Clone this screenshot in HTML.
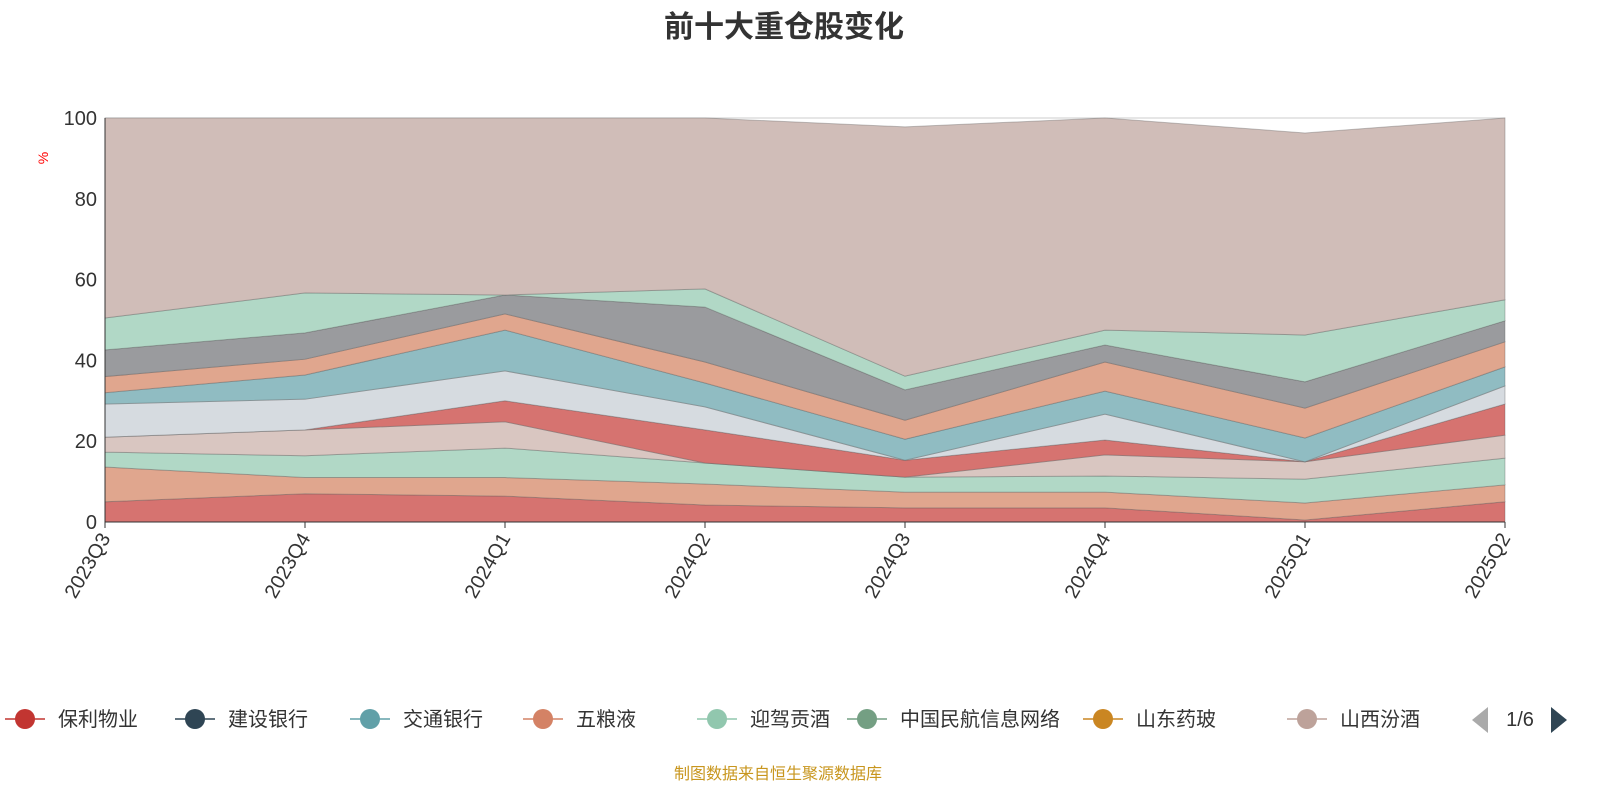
<!DOCTYPE html>
<html><head><meta charset="utf-8"><style>
body{margin:0;background:#fff;font-family:"Liberation Sans","Noto Sans CJK SC",sans-serif}
svg text{font-family:"Liberation Sans","Noto Sans CJK SC",sans-serif}
</style></head><body>
<svg id="c" width="1600" height="800"></svg>
<script>
const categories=["2023Q3","2023Q4","2024Q1","2024Q2","2024Q3","2024Q4","2025Q1","2025Q2"];
const yTicks=[0,20,40,60,80,100];
const s1=[5,7,6.4,4.2,3.5,3.5,0.5,5];
const s2=[8.6,4,4.6,5.2,3.9,3.9,4.2,4.2];
const s3=[3.7,5.4,7.3,5.2,3.7,4,5.9,6.6];
const s4=[3.7,6.4,6.5,0,0,5.2,4.3,5.7];
const s5=[0,0,5.2,8.2,4.2,3.7,0,7.7];
const s6=[8.2,7.6,7.4,5.7,0,6.4,0,4.5];
const s7=[2.8,6,10.1,5.9,5.2,5.7,5.9,4.7];
const s8=[4,3.9,4,5.2,4.7,7.2,7.4,6.2];
const s9=[6.6,6.5,4.7,13.6,7.5,4.2,6.5,5.2];
const s10=[7.9,9.9,0,4.5,3.4,3.7,11.6,5.2];
const s11=[49.5,43.3,43.8,42.3,61.7,52.5,50,45];
const series=[s1,s2,s3,s4,s5,s6,s7,s8,s9,s10,s11];
const colors=["#d67370","#e0a68e","#b1d8c6","#d9c6c1","#d67370","#d6dbe0","#90bcc2","#e0a68e","#9a9b9e","#b1d8c6","#d0bdb8"];
const legendNames=["保利物业","建设银行","交通银行","五粮液","迎驾贡酒","中国民航信息网络","山东药玻","山西汾酒"];
const legendColors=["#c23531","#2f4554","#61a0a8","#d48265","#91c7ae","#749f83","#ca8622","#bda29a"];
const legendX=[5,175,350,523,697,847,1083,1287];

const NS="http://www.w3.org/2000/svg",svg=document.getElementById('c');
const X0=105,X1=1505,Y0=522,Y1=118;
const xs=i=>X0+i*(X1-X0)/(categories.length-1);
const ys=v=>Y0-(v/100)*(Y0-Y1);
function mk(t,a,p){const e=document.createElementNS(NS,t);for(const k in a)e.setAttribute(k,a[k]);(p||svg).appendChild(e);return e;}

let t=mk('text',{x:784,y:37,'text-anchor':'middle','font-size':30,'font-weight':'bold',fill:'#333'});t.textContent='前十大重仓股变化';


yTicks.forEach(v=>{
 let l=mk('line',{x1:X0,x2:X1,y1:ys(v),y2:ys(v),stroke:'#ccc'});
 
 let tx=mk('text',{x:X0-8,y:ys(v)+7,'text-anchor':'end','font-size':20,fill:'#333'});tx.textContent=v;
 
});
t=mk('text',{x:48,y:158,'font-size':14,fill:'red',transform:'rotate(-90 48 158)','text-anchor':'middle'});t.textContent='%';


let base=categories.map(()=>0);
series.forEach((s,k)=>{
 const top=base.map((b,i)=>b+s[i]);
 let d='M'+top.map((v,i)=>xs(i)+','+ys(v)).join(' L');
 for(let i=categories.length-1;i>=0;i--)d+=' L'+xs(i)+','+ys(base[i]);
 let p=mk('path',{d:d+'Z',fill:colors[k],stroke:'rgba(90,90,90,0.35)','stroke-width':1});
 
 base=top;
});

let ax=mk('line',{x1:X0,x2:X0,y1:Y1,y2:Y0,stroke:'#333'});
ax=mk('line',{x1:X0,x2:X1,y1:Y0,y2:Y0,stroke:'#333'});
categories.forEach((c,i)=>{
 let tk=mk('line',{x1:xs(i),x2:xs(i),y1:Y0,y2:Y0+6,stroke:'#333'});
 
 let tx=mk('text',{x:xs(i)+6,y:Y0+16,'text-anchor':'end','font-size':20,fill:'#333',transform:`rotate(-60 ${xs(i)+6} ${Y0+16})`});tx.textContent=c;
 
});

legendNames.forEach((n,i)=>{
 const g=mk('g',{});
 
 const x=legendX[i];
 mk('line',{x1:x,x2:x+40,y1:719,y2:719,stroke:legendColors[i],'stroke-width':1.5},g);
 mk('circle',{cx:x+20,cy:719,r:10,fill:legendColors[i]},g);
 const tx=mk('text',{x:x+53,y:726,'font-size':20,fill:'#333'},g);tx.textContent=n;
});
let pa=mk('path',{d:'M1488,707 L1488,733 L1472,720Z',fill:'#aaa'});
t=mk('text',{x:1520,y:726,'text-anchor':'middle','font-size':20,fill:'#333'});t.textContent='1/6';

pa=mk('path',{d:'M1551,707 L1551,733 L1567,720Z',fill:'#2f4554'});
t=mk('text',{x:778,y:779,'text-anchor':'middle','font-size':16,fill:'#c8961e'});t.textContent='制图数据来自恒生聚源数据库';

</script>
</body></html>
